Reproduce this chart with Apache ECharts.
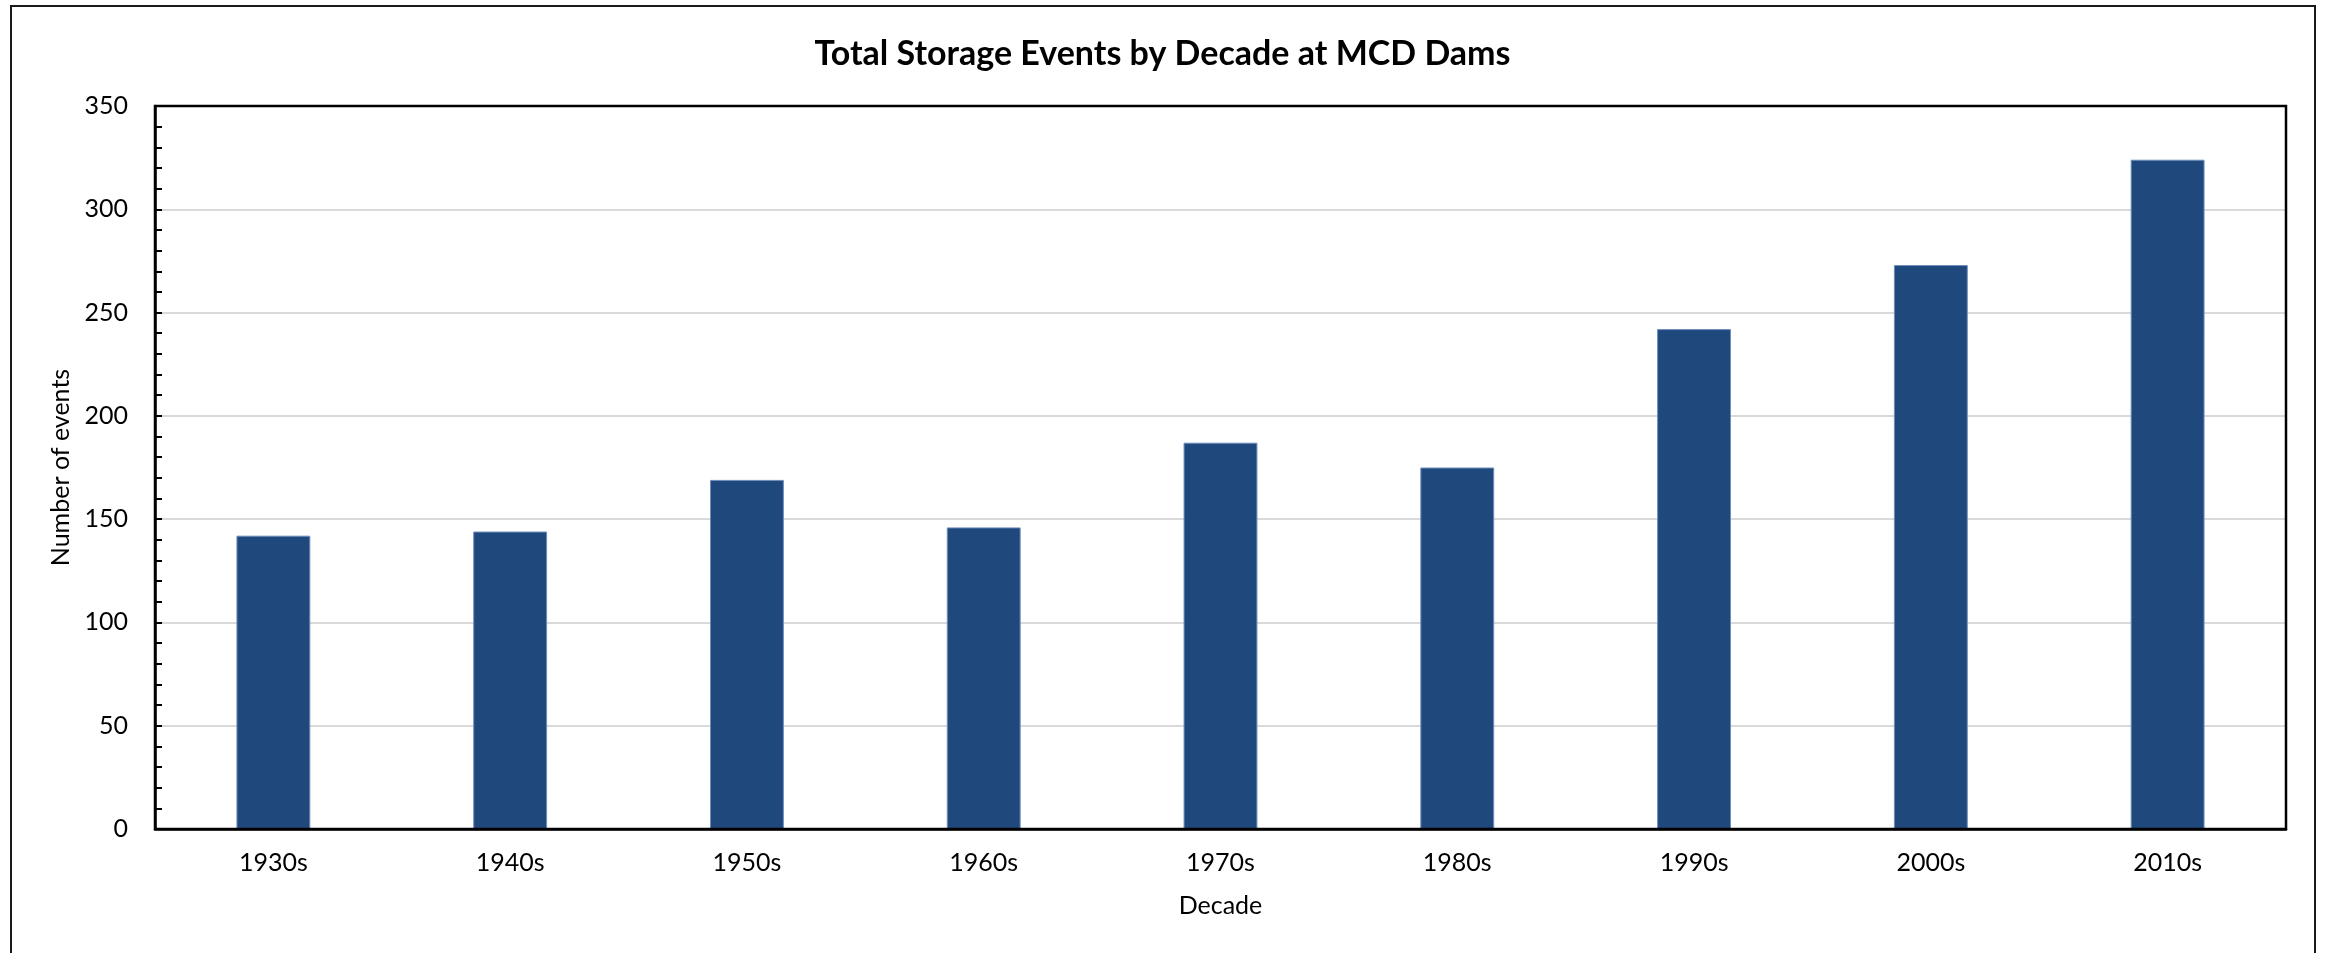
<!DOCTYPE html>
<html>
<head>
<meta charset="utf-8">
<script src="https://cdn.jsdelivr.net/npm/echarts@6/dist/echarts.min.js"></script>
<style>
  html, body { margin: 0; padding: 0; background: #fff; }
  #chart { width: 2325px; height: 953px; }
</style>
</head>
<body>
<div id="chart"></div>
<script>
// Storage events counted per decade
const decades = ['1930s', '1940s', '1950s', '1960s', '1970s', '1980s', '1990s', '2000s', '2010s'];
const eventCounts = [142, 144, 169, 146, 187, 175, 242, 273, 324];

const titleText = 'Total Storage Events by Decade at MCD Dams';
const xAxisTitle = 'Decade';
const yAxisTitle = 'Number of events';

const FONT = 'Lato, "Noto Sans", sans-serif';

const GRID = { left: 155, top: 106, right: 39, bottom: 124 };
const W = 2325, H = 953;

const chart = echarts.init(document.getElementById('chart'), null, { renderer: 'canvas' });

chart.setOption({
  backgroundColor: '#ffffff',
  animation: false,
  title: {
    text: titleText,
    left: 'center',
    top: 32,
    textStyle: { fontFamily: FONT, fontSize: 34, fontWeight: 'bold', color: '#000' }
  },
  graphic: [
    {
      // outer chart frame
      type: 'rect',
      shape: { x: 11, y: 6, width: 2304, height: 1000 },
      style: { fill: 'none', stroke: '#1a1a1a', lineWidth: 2 },
      silent: true,
      z: 100
    },
    {
      // plot-area frame
      type: 'rect',
      shape: {
        x: GRID.left, y: GRID.top,
        width: W - GRID.left - GRID.right,
        height: H - GRID.top - GRID.bottom
      },
      style: { fill: 'none', stroke: '#000', lineWidth: 2.5 },
      silent: true,
      z: 100
    }
  ],
  grid: {
    left: GRID.left, top: GRID.top, right: GRID.right, bottom: GRID.bottom,
    show: false
  },
  xAxis: {
    type: 'category',
    data: decades,
    name: xAxisTitle,
    nameLocation: 'middle',
    nameGap: 64,
    nameTextStyle: { fontFamily: FONT, fontSize: 25, color: '#000' },
    axisLine: { lineStyle: { color: '#000', width: 2.5 } },
    axisTick: { show: false },
    axisLabel: { fontFamily: FONT, fontSize: 25, color: '#000', margin: 21 }
  },
  yAxis: {
    type: 'value',
    min: 0, max: 350, interval: 50,
    name: yAxisTitle,
    nameLocation: 'middle',
    nameGap: 80,
    nameTextStyle: { fontFamily: FONT, fontSize: 25, color: '#000' },
    axisLine: { show: true, lineStyle: { color: '#000', width: 2.5 } },
    axisTick: { show: true, inside: true, length: 7, lineStyle: { color: '#000', width: 2 } },
    minorTick: { show: true, splitNumber: 5, length: 7, lineStyle: { color: '#000', width: 2 } },
    axisLabel: { fontFamily: FONT, fontSize: 25, color: '#000', margin: 27 },
    splitLine: { show: true, showMinLine: false, showMaxLine: false, lineStyle: { color: '#d9d9d9', width: 2 } }
  },
  series: [{
    type: 'bar',
    data: eventCounts,
    barWidth: '31.2%',
    itemStyle: { color: '#1f497d', borderColor: '#6d8dbb', borderWidth: 1 }
  }]
});
</script>
</body>
</html>
